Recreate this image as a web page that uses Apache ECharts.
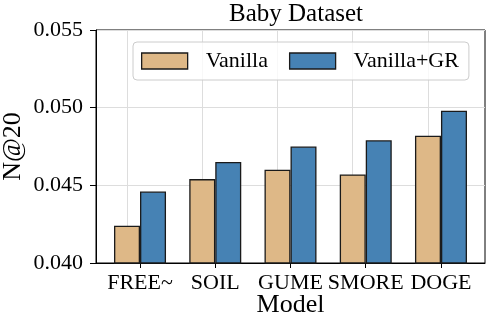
<!DOCTYPE html>
<html>
<head>
<meta charset="utf-8">
<script src="https://cdn.jsdelivr.net/npm/echarts@6/dist/echarts.min.js"></script>
<style>html,body{margin:0;padding:0;background:#fff;}#c{width:488px;height:328px;}</style>
</head>
<body>
<div id="c"></div>
<script>
const categories = ['FREE~', 'SOIL', 'GUME', 'SMORE', 'DOGE'];
const vanilla = [0.0424, 0.0454, 0.0460, 0.0457, 0.0482];
const vanillaGR = [0.0446, 0.0465, 0.0475, 0.0479, 0.0498];
const yTicks = [0.040, 0.045, 0.050, 0.055];

const FONT = '"Liberation Serif", "Times New Roman", serif';
const chart = echarts.init(document.getElementById('c'), null, {renderer: 'canvas'});
const idx = categories.map((_, i) => i);
const barStyle = (color) => ({color: color, borderColor: '#1a1a1a', borderWidth: 1.3});

chart.setOption({
  animation: false,
  backgroundColor: '#fff',
  title: {
    text: 'Baby Dataset', left: 291, top: -3, textAlign: 'center',
    textStyle: {fontFamily: FONT, fontWeight: 'normal', fontSize: 25, color: '#000'}
  },
  legend: {
    left: 133, top: 42,
    orient: 'horizontal',
    icon: 'rect', itemWidth: 46, itemHeight: 16, itemGap: 21,
    padding: [8, 10, 8, 8],
    backgroundColor: 'rgba(255,255,255,0.8)',
    borderColor: '#cccccc', borderWidth: 1, borderRadius: 4,
    textStyle: {fontFamily: FONT, fontSize: 22, color: '#000', padding: [0, 0, 0, 13]},
    itemStyle: {borderColor: '#1a1a1a', borderWidth: 1.3},
    data: ['Vanilla', 'Vanilla+GR']
  },
  grid: {left: 96, right: 3, top: 30, bottom: 65, outerBoundsMode: 'none', containLabel: false,
         show: true, borderColor: '#000', borderWidth: 1, backgroundColor: 'transparent'},
  xAxis: {
    type: 'value', min: -0.585, max: 4.585,
    name: 'Model', nameLocation: 'middle', nameGap: 29, nameMoveOverlap: false,
    nameTextStyle: {fontFamily: FONT, fontSize: 26, color: '#000'},
    axisLine: {show: true, onZero: false, lineStyle: {color: '#000', width: 1}},
    axisTick: {show: true, customValues: idx, length: 5, lineStyle: {color: '#000'}},
    axisLabel: {customValues: idx, formatter: v => categories[Math.round(v)], fontFamily: FONT, fontSize: 22, color: '#000', margin: 9},
    splitLine: {show: false}
  },
  yAxis: {
    type: 'value', min: yTicks[0], max: yTicks[yTicks.length - 1], interval: 0.005,
    name: 'N@20', nameLocation: 'middle', nameGap: 70, nameRotate: 90, nameMoveOverlap: false,
    nameTextStyle: {fontFamily: FONT, fontSize: 26, color: '#000'},
    axisLine: {show: true, onZero: false, lineStyle: {color: '#000', width: 1}},
    axisTick: {show: true, length: 6, lineStyle: {color: '#000'}},
    axisLabel: {formatter: v => v.toFixed(3), fontFamily: FONT, fontSize: 22, color: '#000', margin: 13},
    splitLine: {show: true, lineStyle: {color: '#dddddd', width: 1}}
  },
  series: [
    {name: 'Vanilla', type: 'bar', barWidth: 26, barGap: '0%', itemStyle: barStyle('#DEB887'), z: 2,
     data: vanilla.map((v, i) => [i, v]),
     markLine: {silent: true, symbol: 'none', z: 1, label: {show: false},
       lineStyle: {color: '#dddddd', width: 1, type: 'solid'},
       data: idx.map(i => ({xAxis: i}))}},
    {name: 'Vanilla+GR', type: 'bar', barWidth: 26, barGap: '0%', itemStyle: barStyle('#4682B4'), z: 2,
     data: vanillaGR.map((v, i) => [i, v])}
  ]
});
</script>
</body>
</html>
